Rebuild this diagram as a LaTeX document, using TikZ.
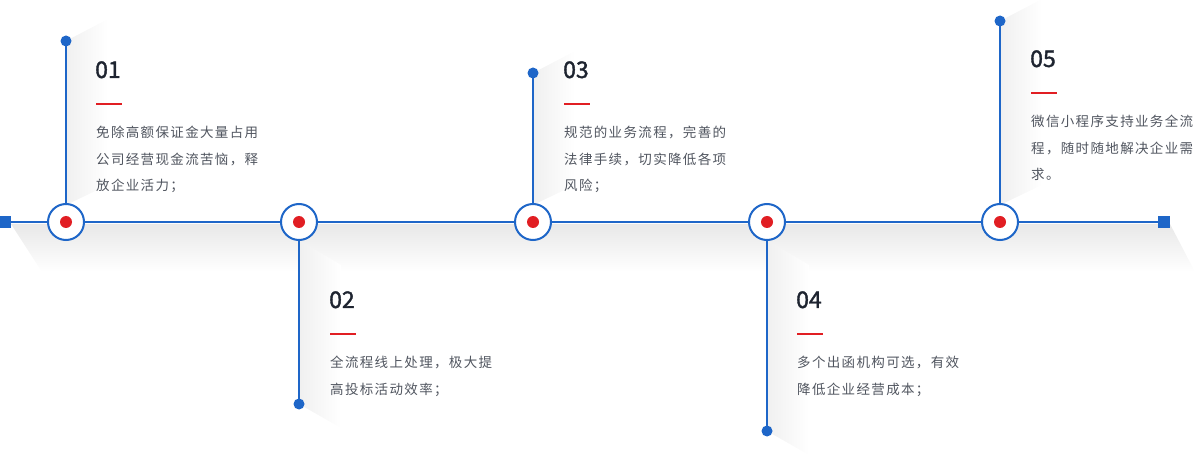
\documentclass[tikz,border=0pt]{standalone}
\usepackage{fontspec}
\setmainfont{Noto Sans CJK SC}
\newfontfamily\cjkbody[LetterSpace=10]{Noto Sans CJK SC}
\newfontfamily\numfont[FakeBold=1.6]{Noto Sans CJK SC}
\usepackage{xcolor}
\usetikzlibrary{positioning}
\definecolor{lineblue}{RGB}{30,102,200}
\definecolor{dotred}{RGB}{225,30,35}
\definecolor{numdark}{RGB}{30,36,48}
\definecolor{descgray}{RGB}{80,85,95}

\begin{document}
\begin{tikzpicture}[x=1pt,y=-1pt,
  hub/.style={circle,draw=lineblue,line width=2pt,fill=white,minimum size=36pt,inner sep=0pt},
  stemdot/.style={circle,fill=lineblue,minimum size=11pt,inner sep=0pt},
  core/.style={circle,fill=dotred,minimum size=12pt,inner sep=0pt},
  endsq/.style={rectangle,fill=lineblue,minimum size=12pt,inner sep=0pt},
  num/.style={anchor=base west,inner sep=0pt,text=numdark,font=\numfont\fontsize{23}{23}\selectfont},
  desc/.style={anchor=north west,inner sep=0pt,align=left,text=descgray,font=\cjkbody\fontsize{13.5}{26.5}\selectfont},
  bar/.style={dotred,line width=2pt},
  stem/.style={lineblue,line width=1.8pt},
  shadeh/.style={left color=black!6,right color=white},
  shadev/.style={top color=black!9,bottom color=white}]
  \useasboundingbox (0,0) rectangle (1200,457);

  % soft shadows
  \shade[shadev] (11,224) -- (1170,224) -- (1195,272) -- (42,272) -- cycle;
  \shade[shadeh] (66,41) -- (108,19) -- (108,185) -- (66,205) -- cycle;
  \shade[shadeh] (533,73) -- (575,51) -- (575,185) -- (533,205) -- cycle;
  \shade[shadeh] (1000,21) -- (1042,-1) -- (1042,185) -- (1000,205) -- cycle;
  \shade[shadeh] (299,240) -- (341,265) -- (341,428) -- (299,404) -- cycle;
  \shade[shadeh] (767,240) -- (809,265) -- (809,455) -- (767,431) -- cycle;

  % timeline
  \node[endsq] (sl) at (5,222) {};
  \node[endsq] (sr) at (1164,222) {};
  \node[hub] (c1) at (66,222) {};
  \node[hub] (c2) at (299,222) {};
  \node[hub] (c3) at (533,222) {};
  \node[hub] (c4) at (767,222) {};
  \node[hub] (c5) at (1000,222) {};
  \draw[lineblue,line width=2pt] (sl) -- (c1) -- (c2) -- (c3) -- (c4) -- (c5) -- (sr);
  \foreach \i in {1,...,5}
    \node[core] at (c\i) {};

  % stems
  \node[stemdot] (d1) at (66,41) {};
  \node[stemdot] (d2) at (299,404) {};
  \node[stemdot] (d3) at (533,73) {};
  \node[stemdot] (d4) at (767,431) {};
  \node[stemdot] (d5) at (1000,21) {};
  \foreach \i in {1,...,5}
    \draw[stem] (c\i) -- (d\i.center);

  % labels
  \node[num] (n1) at (95,78) {01};
  \draw[bar] (96,104) -- ++(26,0);
  \node[desc] (t1) at (96,126) {免除高额保证金大量占用\\公司经营现金流苦恼，释\\放企业活力；};

  \node[num] (n2) at (329,308) {02};
  \draw[bar] (330,334) -- ++(26,0);
  \node[desc] (t2) at (330,356) {全流程线上处理，极大提\\高投标活动效率；};

  \node[num] (n3) at (563,78) {03};
  \draw[bar] (564,104) -- ++(26,0);
  \node[desc] (t3) at (564,126) {规范的业务流程，完善的\\法律手续，切实降低各项\\风险；};

  \node[num] (n4) at (796,308) {04};
  \draw[bar] (797,334) -- ++(26,0);
  \node[desc] (t4) at (797,356) {多个出函机构可选，有效\\降低企业经营成本；};

  \node[num] (n5) at (1030,67) {05};
  \draw[bar] (1031,93) -- ++(26,0);
  \node[desc] (t5) at (1031,115) {微信小程序支持业务全流\\程，随时随地解决企业需\\求。};
\end{tikzpicture}
\end{document}
